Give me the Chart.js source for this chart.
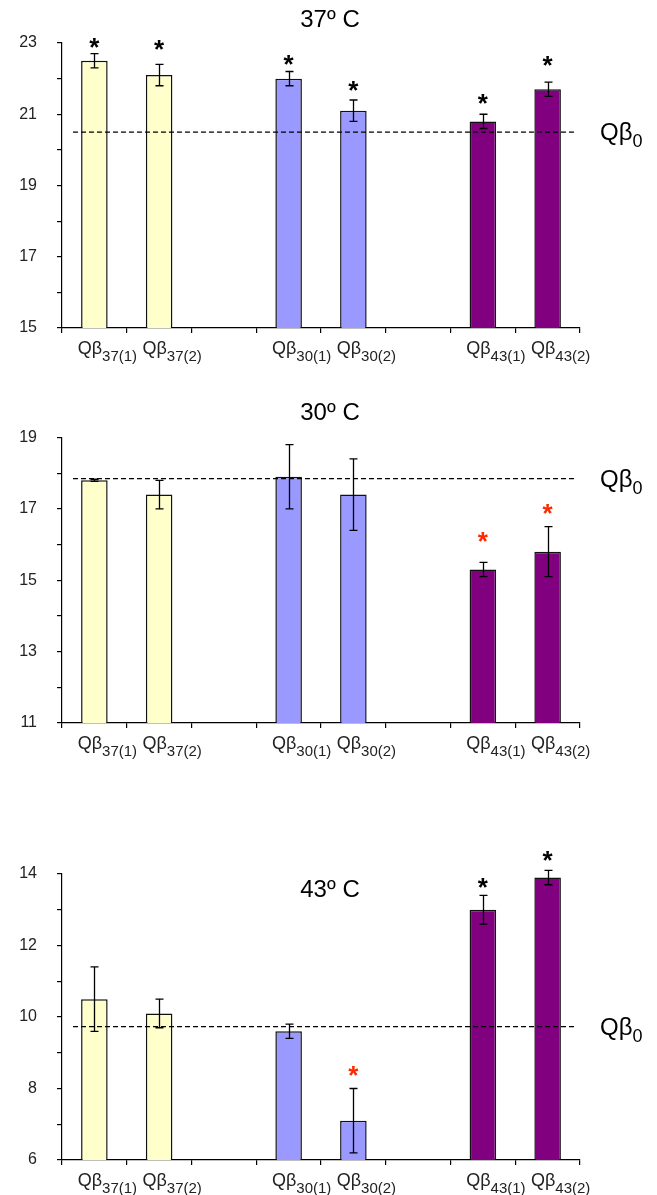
<!DOCTYPE html>
<html>
<head>
<meta charset="utf-8">
<script src="https://cdn.jsdelivr.net/npm/chart.js@4.4.1/dist/chart.umd.min.js"></script>
<style>
  body { margin: 0; background: #fff; }
  .wrap { position: relative; width: 657px; height: 1195px; }
  canvas { position: absolute; left: 0; }
</style>
</head>
<body>
<div class="wrap">
  <canvas id="c37" width="657" height="370" style="top:0px"></canvas>
  <canvas id="c30" width="657" height="400" style="top:380px"></canvas>
  <canvas id="c43" width="657" height="395" style="top:800px"></canvas>
</div>
<script>
// categories (two empty slots are the gaps between groups)
const categories = ['Qβ37(1)', 'Qβ37(2)', ' ', 'Qβ30(1)', 'Qβ30(2)', '  ', 'Qβ43(1)', 'Qβ43(2)'];
const labelMain = ['Qβ', 'Qβ', '', 'Qβ', 'Qβ', '', 'Qβ', 'Qβ'];
const labelSub = ['37(1)', '37(2)', '', '30(1)', '30(2)', '', '43(1)', '43(2)'];
const barColors = ['#FFFFCC', '#FFFFCC', null, '#9999FF', '#9999FF', null, '#800080', '#800080'];

// 37 C
const values37 = [22.5, 22.1, null, 22.0, 21.1, null, 20.8, 21.7];
const errors37 = [0.2, 0.3, null, 0.2, 0.3, null, 0.2, 0.2];
const stars37 = [23.0, 22.94, null, 22.53, 21.78, null, 21.44, 22.49];
const starRed37 = [false, false, false, false, false, false, false, false];
const ref37 = 20.5;
const yTicks37 = { min: 15, max: 23 };

// 30 C
const values30 = [17.8, 17.4, null, 17.9, 17.4, null, 15.3, 15.8];
const errors30 = [0.03, 0.4, null, 0.9, 1.0, null, 0.2, 0.7];
const stars30 = [null, null, null, null, null, null, 16.2, 17.0];
const starRed30 = [false, false, false, false, false, false, true, true];
const ref30 = 17.85;
const yTicks30 = { min: 11, max: 19 };

// 43 C
const values43 = [10.5, 10.1, null, 9.6, 7.1, null, 13.0, 13.9];
const errors43 = [0.9, 0.4, null, 0.2, 0.9, null, 0.4, 0.2];
const stars43 = [null, null, null, null, 8.5, null, 13.76, 14.5];
const starRed43 = [false, false, false, false, true, false, false, false];
const ref43 = 9.73;
const yTicks43 = { min: 6, max: 14 };

const FONT = '"Liberation Sans", Arial, sans-serif';
Chart.defaults.font.family = FONT;

// draws "Qβ" + smaller lowered subscript
function drawSub(ctx, main, sub, x, y, size, subSize, shift, align) {
  ctx.font = size + 'px ' + FONT;
  const w1 = ctx.measureText(main).width;
  ctx.font = subSize + 'px ' + FONT;
  const w2 = ctx.measureText(sub).width;
  let start = align === 'center' ? x - (w1 + w2) / 2 : x;
  ctx.textAlign = 'left';
  ctx.textBaseline = 'alphabetic';
  ctx.font = size + 'px ' + FONT;
  ctx.fillText(main, start, y);
  ctx.font = subSize + 'px ' + FONT;
  ctx.fillText(sub, start + w1, y + shift);
}

function makePanel(id, p) {
  const extras = {
    id: 'extras',
    afterDraw(chart) {
      const ctx = chart.ctx;
      const xs = chart.scales.x, ys = chart.scales.y;
      const area = chart.chartArea;
      const meta = chart.getDatasetMeta(0);
      ctx.save();

      // reference line (Qβ0)
      const ry = ys.getPixelForValue(p.ref);
      ctx.strokeStyle = '#000';
      ctx.lineWidth = 1.2;
      ctx.setLineDash([5, 3]);
      ctx.beginPath();
      ctx.moveTo(area.left + 11, ry);
      ctx.lineTo(area.right - 5, ry);
      ctx.stroke();
      ctx.setLineDash([]);
      ctx.fillStyle = '#000';
      drawSub(ctx, 'Qβ', '0', area.right + 20, ry + 8, 24, 18, 7, 'left');

      // error bars
      ctx.lineWidth = 1.3;
      p.values.forEach((v, i) => {
        if (v == null) return;
        const bx = Math.round(meta.data[i].x) + 0.5;
        const top = ys.getPixelForValue(v + p.errors[i]);
        const bot = ys.getPixelForValue(v - p.errors[i]);
        ctx.beginPath();
        ctx.moveTo(bx, top); ctx.lineTo(bx, bot);
        ctx.moveTo(bx - 4, top); ctx.lineTo(bx + 4, top);
        ctx.moveTo(bx - 4, bot); ctx.lineTo(bx + 4, bot);
        ctx.stroke();
      });

      // significance stars
      ctx.font = 'bold 26px ' + FONT;
      ctx.textAlign = 'center';
      ctx.textBaseline = 'alphabetic';
      const m = ctx.measureText('*');
      const off = (m.actualBoundingBoxAscent - m.actualBoundingBoxDescent) / 2;
      p.stars.forEach((s, i) => {
        if (s == null) return;
        ctx.fillStyle = p.starRed[i] ? '#FF2A00' : '#000';
        ctx.fillText('*', xs.getPixelForValue(i), ys.getPixelForValue(s) + off);
      });

      // category labels with subscripts
      ctx.fillStyle = '#222';
      labelMain.forEach((t, i) => {
        if (!t) return;
        drawSub(ctx, t, labelSub[i], xs.getPixelForValue(i) + 13, area.bottom + 26, 18, 15, 7, 'center');
      });

      // panel title
      ctx.fillStyle = '#000';
      ctx.font = '24px ' + FONT;
      ctx.textAlign = 'center';
      ctx.textBaseline = 'middle';
      ctx.fillText(p.title, 330, p.titleY);
      ctx.restore();
    }
  };

  return new Chart(document.getElementById(id), {
    type: 'bar',
    data: {
      labels: categories,
      datasets: [{
        data: p.values,
        backgroundColor: barColors,
        borderColor: '#111',
        borderWidth: 1.5,
        barPercentage: 0.41,
        categoryPercentage: 1.0
      }]
    },
    options: {
      responsive: false,
      animation: false,
      layout: { padding: { top: p.padTop, right: 77, left: 0, bottom: 0 } },
      plugins: { legend: { display: false }, tooltip: { enabled: false } },
      scales: {
        x: {
          grid: { drawOnChartArea: false, drawTicks: true, tickLength: 5, color: '#000', lineWidth: 1.2, offset: true },
          border: { color: '#000', width: 1.2 },
          ticks: { display: false },
          afterFit: s => { s.height = p.xHeight; }
        },
        y: {
          min: p.yRange.min,
          max: p.yRange.max,
          grid: { drawOnChartArea: false, drawTicks: true, tickLength: 5, color: '#000', lineWidth: 1.2 },
          border: { color: '#000', width: 1.2 },
          ticks: {
            stepSize: 1,
            padding: 20,
            color: '#222',
            font: { size: 16 },
            callback: v => ((v - p.yRange.min) % 2 === 0 ? String(v) : '')
          },
          afterFit: s => { s.width = 62; }
        }
      }
    },
    plugins: [extras]
  });
}

makePanel('c37', { values: values37, errors: errors37, stars: stars37, starRed: starRed37, ref: ref37,
  yRange: yTicks37, title: '37º C', titleY: 20, padTop: 43, xHeight: 42 });
makePanel('c30', { values: values30, errors: errors30, stars: stars30, starRed: starRed30, ref: ref30,
  yRange: yTicks30, title: '30º C', titleY: 33, padTop: 57.5, xHeight: 57 });
makePanel('c43', { values: values43, errors: errors43, stars: stars43, starRed: starRed43, ref: ref43,
  yRange: yTicks43, title: '43º C', titleY: 90, padTop: 74, xHeight: 35 });
</script>
</body>
</html>
